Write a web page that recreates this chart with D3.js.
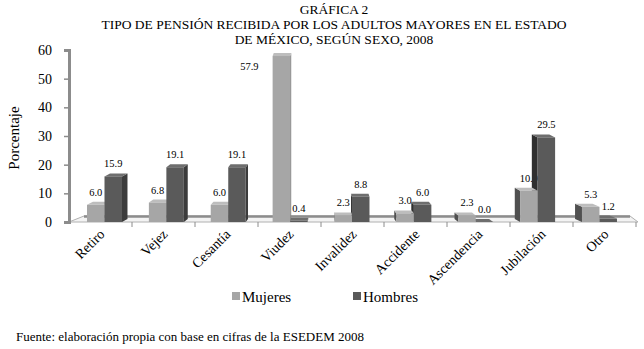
<!DOCTYPE html>
<html>
<head>
<meta charset="utf-8">
<script src="https://cdn.jsdelivr.net/npm/d3@7"></script>
<style>
  body { margin: 0; background: #fff; }
  svg text { font-family: "Liberation Serif", "Times New Roman", serif; fill: #000; }
</style>
</head>
<body>
<div id="chart"></div>
<script>
// data
var categories = ["Retiro", "Vejez", "Cesantía", "Viudez", "Invalidez", "Accidente", "Ascendencia", "Jubilación", "Otro"];
var mujeres = [6.0, 6.8, 6.0, 57.9, 2.3, 3.0, 2.3, 10.9, 5.3];
var hombres = [15.9, 19.1, 19.1, 0.4, 8.8, 6.0, 0.0, 29.5, 1.2];
var seriesNames = ["Mujeres", "Hombres"];
var yTicks = [0, 10, 20, 30, 40, 50, 60];
var titleLines = ["GRÁFICA 2", "TIPO DE PENSIÓN RECIBIDA POR LOS ADULTOS MAYORES EN EL ESTADO", "DE MÉXICO, SEGÚN SEXO, 2008"];

var width = 644, height = 349;
var serif = "'Liberation Serif', 'Times New Roman', serif";

var colors = {
  Mujeres: {front: "#a6a6a6", top: "#bdbdbd", right: "#8a8a8a", left: "#505050"},
  Hombres: {front: "#5a5a5a", top: "#6e6e6e", right: "#3c3c3c", left: "#2f2f2f"}
};

var svg = d3.select("#chart")
    .append("svg")
    .attr("width", width)
    .attr("height", height)
    .style("font-family", serif);

// scales
var x = d3.scaleBand()
    .domain(categories)
    .range([69, 636]);

var inner = d3.scaleBand()
    .domain(seriesNames)
    .range([0, 35]);

var y = d3.scaleLinear()
    .domain([0, 60])
    .range([222, 50]);

// fake 3d perspective
var vanishX = 324;
function pairLeft(cat) {
  return x(cat) + 18 - (x(cat) - x.range()[0]) * 0.0179;
}
function sideDx(cx) { return 0.026 * (vanishX - cx); }
var depthDy = -3;

// title
svg.append("g").selectAll("text")
    .data(titleLines)
    .enter().append("text")
    .attr("x", 334)
    .attr("y", function(d, i) { return 14 + i * 15; })
    .attr("text-anchor", "middle")
    .style("font-size", "13.5px")
    .text(function(d) { return d; });

// floor
var x0 = x.range()[0], x1 = x.range()[1];
svg.append("polygon")
    .attr("points", [[x0, y(0)], [x0 + 15, y(0) - 6], [x1 - 6, y(0) - 6], [x1 + 2, y(0)]].join(" "))
    .attr("fill", "#f3f3f3")
    .attr("stroke", "#b0b0b0")
    .attr("stroke-width", 1);
svg.append("line")
    .attr("x1", x0 + 15).attr("x2", x1 - 6)
    .attr("y1", y(0) - 5.5).attr("y2", y(0) - 5.5)
    .attr("stroke", "#8c8c8c")
    .attr("stroke-width", 2.5);

// y axis
var yAxis = svg.append("g")
    .attr("transform", "translate(" + x0 + ",0)")
    .call(d3.axisLeft(y).tickValues(yTicks).tickSize(5).tickPadding(12));
yAxis.attr("font-family", null);
yAxis.select(".domain").attr("stroke", "#8c8c8c").attr("stroke-width", 3);
yAxis.selectAll(".tick line").attr("stroke", "#8c8c8c").attr("stroke-width", 1.5);
yAxis.selectAll(".tick text")
    .style("font-family", serif)
    .style("font-size", "14px")
    .attr("fill", "#000");

svg.append("text")
    .attr("transform", "translate(19,138) rotate(-90)")
    .attr("text-anchor", "middle")
    .style("font-size", "15px")
    .text("Porcentaje");

// x ticks under the floor
svg.append("g").selectAll("line")
    .data(categories.slice(1).concat(["end"]))
    .enter().append("line")
    .attr("x1", function(d) { return d == "end" ? x1 : x(d); })
    .attr("x2", function(d) { return d == "end" ? x1 : x(d); })
    .attr("y1", y(0))
    .attr("y2", y(0) + 5)
    .attr("stroke", "#8c8c8c")
    .attr("stroke-width", 1);

// bars
var bars = svg.append("g");

function drawBar(cat, name, v) {
  var c = colors[name];
  var bx = pairLeft(cat) + inner(name);
  var bw = inner.bandwidth();
  var top = y(v), bot = y(0);
  var dx = sideDx(bx + bw / 2);
  var g = bars.append("g");
  var xe = dx >= 0 ? bx + bw : bx;
  g.append("polygon")
      .attr("points", [[xe, top], [xe + dx, top + depthDy], [xe + dx, bot + depthDy], [xe, bot]].join(" "))
      .attr("fill", dx >= 0 ? c.right : c.left);
  g.append("polygon")
      .attr("points", [[bx, top], [bx + dx, top + depthDy], [bx + bw + dx, top + depthDy], [bx + bw, top]].join(" "))
      .attr("fill", c.top);
  g.append("rect")
      .attr("x", bx)
      .attr("y", top)
      .attr("width", bw)
      .attr("height", bot - top)
      .attr("fill", c.front);
}

function drawLabel(cat, name, v) {
  var bx = pairLeft(cat) + inner(name) + inner.bandwidth() / 2;
  var lx = bx, ly = y(v) - 9;
  if (v > 50) { lx = bx - 32; ly = y(v) + 14; }   // too close to the title
  bars.append("text")
      .attr("x", lx)
      .attr("y", ly)
      .attr("text-anchor", "middle")
      .style("font-size", "10.5px")
      .text(v.toFixed(1));
}

categories.forEach(function(cat, i) {
  var cx = pairLeft(cat) + 17;
  if (cx < vanishX) {
    drawBar(cat, "Mujeres", mujeres[i]);
    drawBar(cat, "Hombres", hombres[i]);
    drawLabel(cat, "Mujeres", mujeres[i]);
    drawLabel(cat, "Hombres", hombres[i]);
  } else {
    drawLabel(cat, "Mujeres", mujeres[i]);
    drawBar(cat, "Hombres", hombres[i]);
    drawLabel(cat, "Hombres", hombres[i]);
    drawBar(cat, "Mujeres", mujeres[i]);
  }
});

// category labels
svg.append("g").selectAll("text")
    .data(categories)
    .enter().append("text")
    .attr("transform", function(d) {
      return "translate(" + (x(d) + x.bandwidth() / 2 + 5) + ",235) rotate(-45)";
    })
    .attr("text-anchor", "end")
    .style("font-size", "14px")
    .text(function(d) { return d; });

// legend
var legend = svg.append("g").selectAll("g")
    .data(seriesNames)
    .enter().append("g")
    .attr("transform", function(d, i) { return "translate(" + (232 + i * 121) + ",292)"; });
legend.append("rect")
    .attr("width", 8)
    .attr("height", 8)
    .attr("fill", function(d) { return colors[d].front; });
legend.append("text")
    .attr("x", 10)
    .attr("y", 10)
    .style("font-size", "15px")
    .text(function(d) { return d; });

// source
svg.append("text")
    .attr("x", 16)
    .attr("y", 341)
    .style("font-size", "13px")
    .text("Fuente: elaboración propia con base en cifras de la ESEDEM 2008");
</script>
</body>
</html>
